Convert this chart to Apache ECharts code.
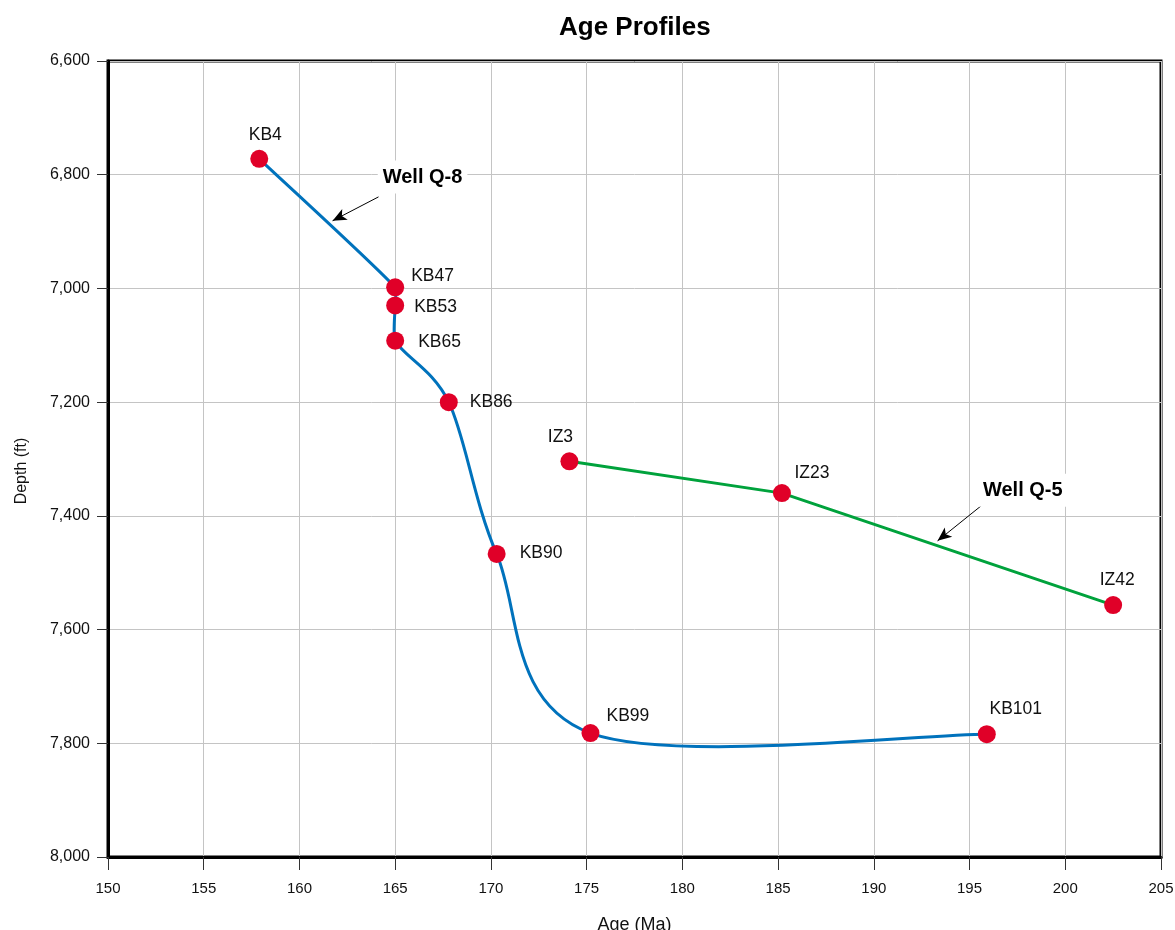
<!DOCTYPE html>
<html>
<head>
<meta charset="utf-8">
<script src="https://cdn.jsdelivr.net/npm/echarts@6/dist/echarts.min.js"></script>
<style>
html,body{margin:0;padding:0;background:#fff;}
#chart{width:1175px;height:930px;}
</style>
</head>
<body>
<div id="chart"></div>
<script>
// ---- Data ----
var q8Names  = ['KB4', 'KB47', 'KB53', 'KB65', 'KB86', 'KB90', 'KB99', 'KB101'];
var q8Ages   = [157.9, 165.0, 165.0, 165.0, 167.8, 170.3, 175.2, 195.9];
var q8Depths = [6772, 6998, 7030, 7092, 7200, 7467, 7782, 7784];

var q5Names  = ['IZ3', 'IZ23', 'IZ42'];
var q5Ages   = [174.1, 185.2, 202.5];
var q5Depths = [7304, 7360, 7557];

var xTicks = [150, 155, 160, 165, 170, 175, 180, 185, 190, 195, 200, 205];
var yTicks = [6600, 6800, 7000, 7200, 7400, 7600, 7800, 8000];

// annotations (data coordinates): text anchor, arrow start, arrow end
var q8Note = {text: 'Well Q-8', at: [166.43, 6804], from: [164.13, 6839], to: [161.73, 6881]};
var q5Note = {text: 'Well Q-5', at: [197.78, 7355], from: [195.62, 7382], to: [193.33, 7444]};

// ---- Label placement (style) ----
var q8Label = [
  {position: 'top', distance: 6, offset: [6, 0]},
  {position: 'right', distance: 7, offset: [0, -11]},
  {position: 'right', distance: 10, offset: [0, 2]},
  {position: 'right', distance: 14, offset: [0, 1]},
  {position: 'right', distance: 12, offset: [0, 0]},
  {position: 'right', distance: 14, offset: [0, -1]},
  {position: 'right', distance: 7, offset: [0, -17]},
  {position: 'top', distance: 7, offset: [29, 0]}
];
var q5Label = [
  {position: 'top', distance: 6, offset: [-9, 0]},
  {position: 'top', distance: 2, offset: [30, 0]},
  {position: 'top', distance: 7, offset: [4, 0]}
];

var FONT = 'Liberation Sans, Arial, Helvetica, sans-serif';

function buildData(names, ages, depths, labels) {
  return names.map(function (n, i) {
    return {
      name: n,
      value: [ages[i], depths[i]],
      label: Object.assign({show: true, formatter: n, color: '#111', fontSize: 17.5, fontFamily: FONT}, labels[i])
    };
  });
}

function noteMarks(note) {
  return {
    markLine: {
      silent: true,
      symbol: ['none', 'arrow'],
      symbolSize: [9, 14],
      lineStyle: {color: '#000', width: 1, type: 'solid'},
      label: {show: false},
      data: [[{coord: note.from}, {coord: note.to}]]
    },
    markPoint: {
      silent: true,
      symbol: 'rect',
      symbolSize: 0,
      data: [{coord: note.at}],
      label: {
        show: true,
        position: 'inside',
        formatter: note.text,
        color: '#000',
        fontSize: 20,
        fontWeight: 'bold',
        fontFamily: FONT,
        backgroundColor: '#fff',
        padding: [7, 5, 6, 5]
      }
    }
  };
}

// Catmull-Rom spline through the Q-8 points, in pixel space via api.coord
function renderSpline(params, api) {
  if (params.dataIndex !== 0) return null;
  var pts = q8Ages.map(function (a, i) { return api.coord([a, q8Depths[i]]); });
  var n = pts.length;
  function tan(i) {
    var p0 = pts[Math.max(0, i - 1)], p1 = pts[Math.min(n - 1, i + 1)];
    return [(p1[0] - p0[0]) / 2, (p1[1] - p0[1]) / 2];
  }
  function clampVec(v, maxLen) {
    var l = Math.sqrt(v[0] * v[0] + v[1] * v[1]);
    if (l > maxLen && l > 0) { return [v[0] * maxLen / l, v[1] * maxLen / l]; }
    return v;
  }
  var d = 'M' + pts[0][0] + ' ' + pts[0][1];
  for (var i = 0; i < n - 1; i++) {
    var seg = Math.sqrt(Math.pow(pts[i + 1][0] - pts[i][0], 2) + Math.pow(pts[i + 1][1] - pts[i][1], 2));
    var k = seg < 60 ? 0.15 : 0.45;
    var t0 = tan(i), t1 = tan(i + 1);
    var o0 = clampVec([t0[0] / 3, t0[1] / 3], seg * k);
    var o1 = clampVec([t1[0] / 3, t1[1] / 3], seg * k);
    var c1 = [pts[i][0] + o0[0], pts[i][1] + o0[1]];
    var c2 = [pts[i + 1][0] - o1[0], pts[i + 1][1] - o1[1]];
    d += ' C' + c1[0] + ' ' + c1[1] + ' ' + c2[0] + ' ' + c2[1] + ' ' + pts[i + 1][0] + ' ' + pts[i + 1][1];
  }
  return {
    type: 'path',
    shape: {pathData: d},
    style: {fill: null, stroke: '#0072bc', lineWidth: 3}
  };
}

var chart = echarts.init(document.getElementById('chart'), null, {renderer: 'canvas'});

var q8Points = q8Ages.map(function (a, i) { return [a, q8Depths[i]]; });

var sCurve = {
  type: 'custom',
  name: 'Well Q-8 line',
  data: q8Points,
  encode: {x: 0, y: 1},
  renderItem: renderSpline,
  silent: true,
  z: 2
};

var s1 = Object.assign({
  type: 'scatter',
  name: 'Well Q-8',
  data: buildData(q8Names, q8Ages, q8Depths, q8Label),
  symbol: 'circle',
  symbolSize: 18,
  itemStyle: {color: '#e00028', opacity: 1},
  z: 4
}, noteMarks(q8Note));

var s2 = Object.assign({
  type: 'line',
  name: 'Well Q-5',
  data: buildData(q5Names, q5Ages, q5Depths, q5Label),
  smooth: false,
  symbol: 'circle',
  symbolSize: 18,
  showAllSymbol: true,
  lineStyle: {color: '#00a23c', width: 3},
  itemStyle: {color: '#e00028'},
  z: 3
}, noteMarks(q5Note));

chart.setOption({
  animation: false,
  backgroundColor: '#fff',
  title: {
    text: 'Age Profiles',
    left: 554,
    top: 10,
    textStyle: {fontSize: 26, fontWeight: 'bold', color: '#000', fontFamily: FONT}
  },
  grid: {
    left: 108, right: 14, top: 61, bottom: 73,
    outerBoundsMode: 'none',
    containLabel: false,
    show: true, borderColor: '#000', borderWidth: 3, backgroundColor: 'transparent'
  },
  xAxis: {
    type: 'value',
    min: xTicks[0], max: xTicks[xTicks.length - 1], interval: 5,
    name: 'Age (Ma)',
    nameLocation: 'middle',
    nameGap: 59,
    nameTextStyle: {fontSize: 18, color: '#111', fontFamily: FONT},
    axisLine: {show: true, lineStyle: {color: '#000', width: 3}},
    axisTick: {show: true, length: 13, lineStyle: {color: '#333', width: 1}},
    axisLabel: {fontSize: 15, color: '#111', margin: 24, fontFamily: FONT},
    splitLine: {show: true, lineStyle: {color: '#c4c4c4', width: 1}}
  },
  yAxis: {
    type: 'value',
    inverse: true,
    min: yTicks[0], max: yTicks[yTicks.length - 1], interval: 200,
    name: 'Depth (ft)',
    nameLocation: 'middle',
    nameGap: 78,
    nameTextStyle: {fontSize: 16, color: '#111', fontFamily: FONT, padding: [0, 24, 0, 0]},
    axisLine: {show: true, lineStyle: {color: '#000', width: 3}},
    axisTick: {show: true, length: 11, lineStyle: {color: '#333', width: 1}},
    axisLabel: {
      fontSize: 16, color: '#111', margin: 18, fontFamily: FONT,
      formatter: function (v) { return v.toLocaleString('en-US'); }
    },
    splitLine: {show: true, lineStyle: {color: '#c4c4c4', width: 1}}
  },
  series: [sCurve, s1, s2]
});
</script>
</body>
</html>
